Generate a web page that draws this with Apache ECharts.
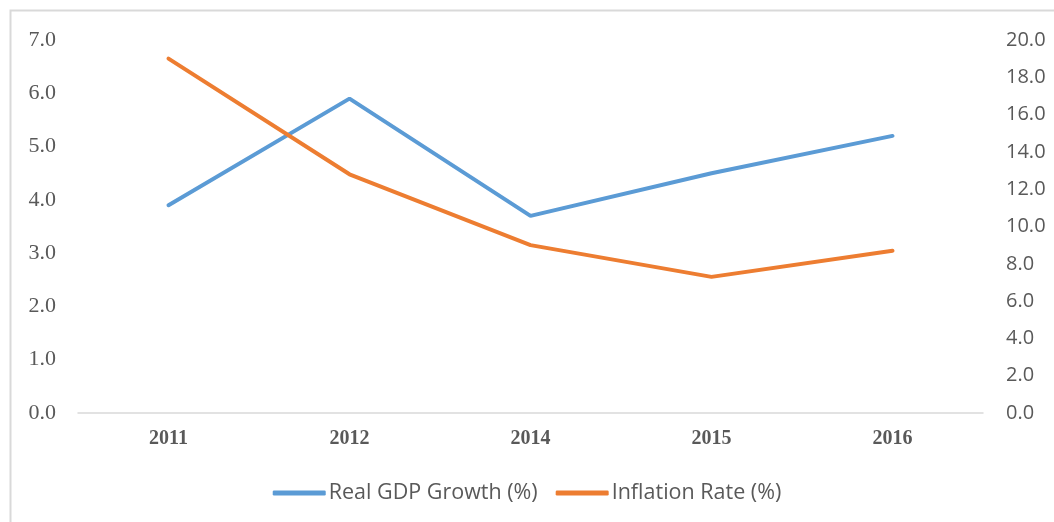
<!DOCTYPE html>
<html><head><meta charset="utf-8">
<script src="https://cdn.jsdelivr.net/npm/echarts@6/dist/echarts.min.js"></script>
<style>html,body{margin:0;padding:0;background:#fff}#c{width:1054px;height:522px}</style>
</head><body><div id="c"></div>
<script>
var categories = ['2011','2012','2014','2015','2016'];
var gdpGrowth = [3.9, 5.9, 3.7, 4.5, 5.2];
var inflation = [19.0, 12.8, 9.0, 7.3, 8.7];
var seriesNames = ['Real GDP Growth (%)', 'Inflation Rate (%)'];

var chart = echarts.init(document.getElementById('c'));
chart.setOption({
  animation: false,
  graphic: [{type:'rect', shape:{x:10.5,y:10.5,width:1100,height:600}, style:{fill:'none',stroke:'#d9d9d9',lineWidth:2}, silent:true}],
  grid: {left:78, right:71, top:40, bottom:109},
  legend: {
    top: 477, left: 'center', itemWidth: 53, itemHeight: 5, itemGap: 18,
    icon: 'roundRect',
    textStyle: {fontFamily:'Open Sans, Liberation Sans, sans-serif', fontSize:21.5, color:'#595959', padding:[0,0,0,-2]},
    data: seriesNames
  },
  xAxis: {
    type:'category', data: categories, boundaryGap:true,
    axisLine:{lineStyle:{color:'#d9d9d9', width:1.5}}, axisTick:{show:false},
    axisLabel:{fontFamily:'Liberation Serif, serif', fontWeight:'bold', fontSize:20, color:'#595959', margin:16}
  },
  yAxis: [
    {type:'value', min:0, max:7, interval:1, position:'left',
     axisLabel:{formatter: function(v){return v.toFixed(1);}, fontFamily:'Liberation Serif, serif', fontSize:22, color:'#595959', margin:22},
     splitLine:{show:false}, axisLine:{show:false}, axisTick:{show:false}},
    {type:'value', min:0, max:20, interval:2, position:'right',
     axisLabel:{formatter: function(v){return v.toFixed(1);}, fontFamily:'Open Sans, Liberation Sans, sans-serif', fontSize:20, color:'#595959', margin:23},
     splitLine:{show:false}, axisLine:{show:false}, axisTick:{show:false}}
  ],
  series: [
    {name: seriesNames[0], type:'line', data: gdpGrowth, yAxisIndex:0, symbol:'none',
     lineStyle:{color:'#5B9BD5', width:4, cap:'round'}, itemStyle:{color:'#5B9BD5'}},
    {name: seriesNames[1], type:'line', data: inflation, yAxisIndex:1, symbol:'none',
     lineStyle:{color:'#ED7D31', width:4, cap:'round'}, itemStyle:{color:'#ED7D31'}}
  ]
});
</script></body></html>
